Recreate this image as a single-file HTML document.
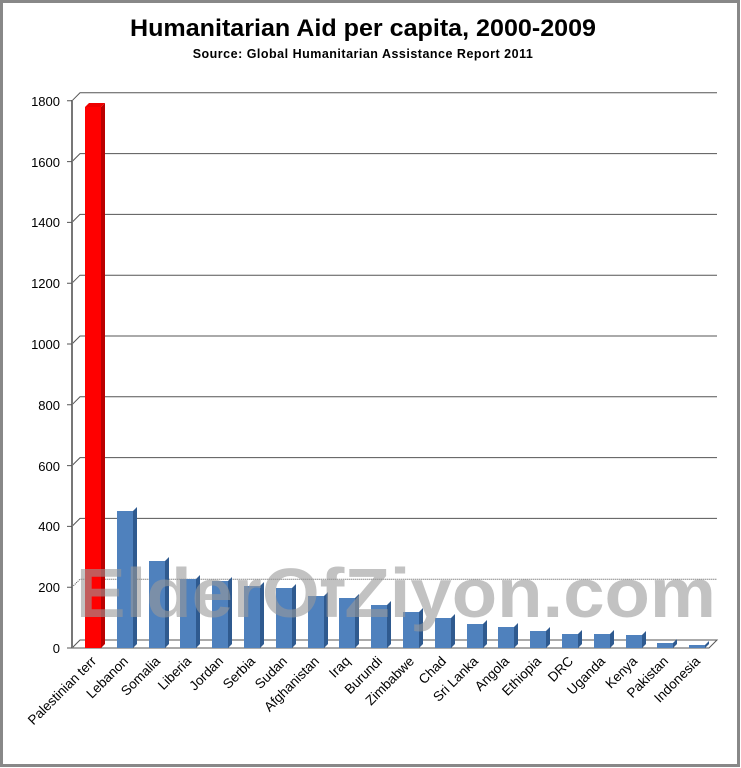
<!DOCTYPE html>
<html><head><meta charset="utf-8"><style>
html,body{margin:0;padding:0;background:#fff}
svg{display:block;font-family:"Liberation Sans",sans-serif}
</style></head><body>
<svg width="741" height="768" viewBox="0 0 741 768" xmlns="http://www.w3.org/2000/svg">
<rect x="1.5" y="1.5" width="737" height="764" fill="#fff" stroke="#888" stroke-width="3"/>
<text x="363" y="36" text-anchor="middle" font-size="24" font-weight="bold" fill="#000" textLength="466" lengthAdjust="spacingAndGlyphs">Humanitarian Aid per capita, 2000-2009</text>
<text x="363" y="58" text-anchor="middle" font-size="12.5" font-weight="bold" fill="#000" letter-spacing="0.5">Source: Global Humanitarian Assistance Report 2011</text>
<g stroke="#555" stroke-width="1" fill="none">
<path d="M72 648 L80 640 H717 L709 648 H72"/>
<path d="M72 587.2 L80 579.2 H717" stroke-dasharray="1 1"/>
<path d="M72 526.4 L80 518.4 H717"/>
<path d="M72 465.6 L80 457.6 H717"/>
<path d="M72 404.8 L80 396.8 H717"/>
<path d="M72 344 L80 336 H717"/>
<path d="M72 283.2 L80 275.2 H717"/>
<path d="M72 222.4 L80 214.4 H717"/>
<path d="M72 161.6 L80 153.6 H717"/>
<path d="M72 100.8 L80 92.8 H717"/>
<path d="M72 100 V648" stroke="#777" stroke-width="2"/>
<path d="M67 648H72M67 587.2H72M67 526.4H72M67 465.6H72M67 404.8H72M67 344H72M67 283.2H72M67 222.4H72M67 161.6H72M67 100.8H72"/>
</g>
<g font-size="13" text-anchor="end" fill="#000">
<text x="60" y="653">0</text><text x="60" y="592">200</text><text x="60" y="531">400</text><text x="60" y="471">600</text><text x="60" y="410">800</text><text x="60" y="349">1000</text><text x="60" y="288">1200</text><text x="60" y="227">1400</text><text x="60" y="167">1600</text><text x="60" y="106">1800</text>
</g>
<g>
<rect x="85" y="107" width="16" height="541" fill="#f00"/><polygon points="101,107 105,103 105,644 101,648" fill="#b00"/><polygon points="85,107 89,103 105,103 101,107" fill="#e00"/>
</g>
<g fill="#4f81bd">
<rect x="117" y="511" width="16" height="137"/><rect x="149" y="561" width="16" height="87"/><rect x="180" y="579" width="16" height="69"/><rect x="212" y="581" width="16" height="67"/><rect x="244" y="586" width="16" height="62"/><rect x="276" y="588" width="16" height="60"/><rect x="308" y="596" width="16" height="52"/><rect x="339" y="598" width="16" height="50"/><rect x="371" y="605" width="16" height="43"/><rect x="403" y="612" width="16" height="36"/><rect x="435" y="618" width="16" height="30"/><rect x="467" y="624" width="16" height="24"/><rect x="498" y="627" width="16" height="21"/><rect x="530" y="631" width="16" height="17"/><rect x="562" y="634" width="16" height="14"/><rect x="594" y="634" width="16" height="14"/><rect x="626" y="635" width="16" height="13"/><rect x="657" y="643" width="16" height="5"/><rect x="689" y="645" width="16" height="3"/>
</g>
<g fill="#2f5a8f">
<polygon points="133,511 137,507 137,644 133,648"/><polygon points="165,561 169,557 169,644 165,648"/><polygon points="196,579 200,575 200,644 196,648"/><polygon points="228,581 232,577 232,644 228,648"/><polygon points="260,586 264,582 264,644 260,648"/><polygon points="292,588 296,584 296,644 292,648"/><polygon points="324,596 328,592 328,644 324,648"/><polygon points="355,598 359,594 359,644 355,648"/><polygon points="387,605 391,601 391,644 387,648"/><polygon points="419,612 423,608 423,644 419,648"/><polygon points="451,618 455,614 455,644 451,648"/><polygon points="483,624 487,620 487,644 483,648"/><polygon points="514,627 518,623 518,644 514,648"/><polygon points="546,631 550,627 550,644 546,648"/><polygon points="578,634 582,630 582,644 578,648"/><polygon points="610,634 614,630 614,644 610,648"/><polygon points="642,635 646,631 646,644 642,648"/><polygon points="673,643 677,639 677,644 673,648"/><polygon points="705,645 709,641 709,644 705,648"/>
</g>
<text x="76" y="617" font-size="70" font-weight="bold" fill="#999" fill-opacity="0.6" textLength="640" lengthAdjust="spacingAndGlyphs">ElderOfZiyon.com</text>
<g font-size="13.5" text-anchor="end" fill="#000">
<text transform="translate(97,662) rotate(-45)">Palestinian terr</text>
<text transform="translate(129,662) rotate(-45)">Lebanon</text>
<text transform="translate(161,662) rotate(-45)">Somalia</text>
<text transform="translate(192,662) rotate(-45)">Liberia</text>
<text transform="translate(224,662) rotate(-45)">Jordan</text>
<text transform="translate(256,662) rotate(-45)">Serbia</text>
<text transform="translate(288,662) rotate(-45)">Sudan</text>
<text transform="translate(320,662) rotate(-45)">Afghanistan</text>
<text transform="translate(351,662) rotate(-45)">Iraq</text>
<text transform="translate(383,662) rotate(-45)">Burundi</text>
<text transform="translate(415,662) rotate(-45)">Zimbabwe</text>
<text transform="translate(447,662) rotate(-45)">Chad</text>
<text transform="translate(479,662) rotate(-45)">Sri Lanka</text>
<text transform="translate(510,662) rotate(-45)">Angola</text>
<text transform="translate(542,662) rotate(-45)">Ethiopia</text>
<text transform="translate(574,662) rotate(-45)">DRC</text>
<text transform="translate(606,662) rotate(-45)">Uganda</text>
<text transform="translate(638,662) rotate(-45)">Kenya</text>
<text transform="translate(669,662) rotate(-45)">Pakistan</text>
<text transform="translate(701,662) rotate(-45)">Indonesia</text>
</g>
</svg>
</body></html>
